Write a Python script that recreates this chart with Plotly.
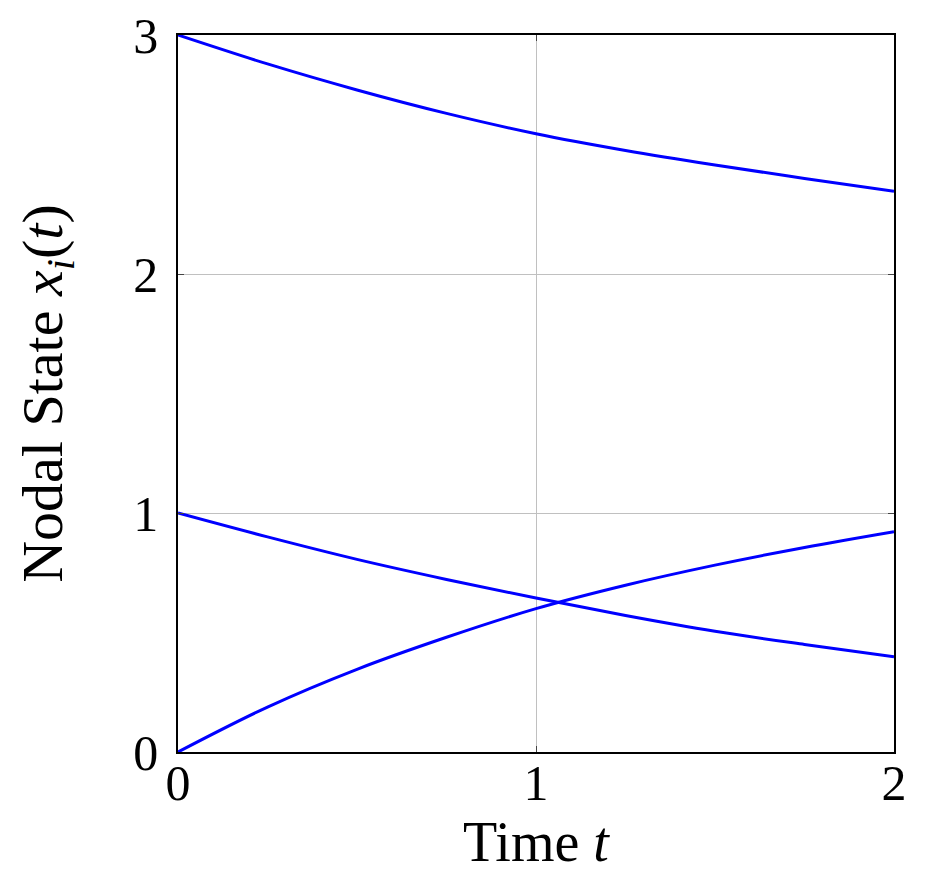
import plotly.graph_objects as go

t = [0.0, 0.25, 0.5, 0.75, 1.0, 1.25, 1.5, 1.75, 2.0]
x1 = [3.0, 2.879, 2.770, 2.672, 2.587, 2.517, 2.456, 2.400, 2.346]
x2 = [1.0, 0.900, 0.806, 0.722, 0.644, 0.571, 0.505, 0.450, 0.399]
x3 = [0.0, 0.188, 0.346, 0.480, 0.600, 0.698, 0.782, 0.856, 0.922]

xticks = [0, 1, 2]
yticks = [0, 1, 2, 3]

FONT = "Liberation Serif"

fig = go.Figure()
for ys in (x1, x2, x3):
    fig.add_trace(go.Scatter(x=t, y=ys, mode="lines",
                             line=dict(color="#0000FF", width=3, shape="spline"),
                             showlegend=False, hoverinfo="skip", cliponaxis=False))

axis_common = dict(
    showline=True, linecolor="black", linewidth=1.5, mirror="allticks",
    showgrid=True, gridcolor="#c0c0c0", gridwidth=1,
    ticks="inside", ticklen=6, tickcolor="#444444", tickwidth=1,
    zeroline=False, ticklabeloverflow="allow",
    tickfont=dict(family=FONT, size=50, color="black"),
)

fig.update_xaxes(range=[0, 2], tickvals=xticks, ticktext=[str(v) for v in xticks],
                 title=dict(text="Time <i>t</i>", font=dict(family=FONT, size=56, color="black"),
                            standoff=0),
                 ticklabelstandoff=-14,
                 **axis_common)
fig.update_yaxes(range=[0, 3], tickvals=yticks, ticktext=[str(v) for v in yticks],
                 title=dict(text="Nodal State <i>x<sub>i</sub></i>(<i>t</i>)",
                            font=dict(family=FONT, size=58, color="black"),
                            standoff=52),
                 ticklabelstandoff=8,
                 **axis_common)

fig.update_layout(
    width=910, height=871,
    margin=dict(l=170, r=24, t=27, b=127, autoexpand=False),
    paper_bgcolor="white", plot_bgcolor="white",
    font=dict(family=FONT, color="black"),
)

fig.write_html("out.html")
